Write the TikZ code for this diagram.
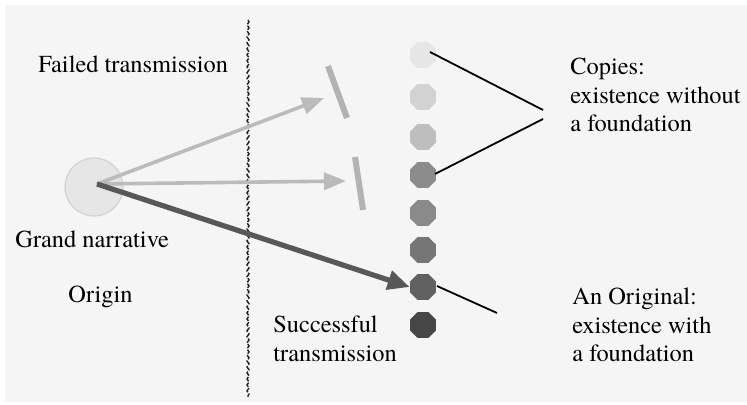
\documentclass[tikz,border=0pt]{standalone}
\usepackage{fontspec}
\setmainfont{texgyretermes}[Extension=.otf,UprightFont=*-regular,BoldFont=*-bold,ItalicFont=*-italic,BoldItalicFont=*-bolditalic]
\usetikzlibrary{shapes.geometric,arrows.meta,decorations.pathmorphing}
\definecolor{bg}{HTML}{F5F5F5}
\definecolor{lgarrow}{HTML}{BBBBBB}
\definecolor{bar}{HTML}{B3B3B3}
\definecolor{dkarrow}{HTML}{585858}
\definecolor{c1}{HTML}{E6E6E6}
\definecolor{c2}{HTML}{D2D2D2}
\definecolor{c3}{HTML}{BDBDBD}
\definecolor{c4}{HTML}{8C8C8C}
\definecolor{c5}{HTML}{8A8A8A}
\definecolor{c6}{HTML}{767676}
\definecolor{c7}{HTML}{616161}
\definecolor{c8}{HTML}{474747}
\begin{document}
\begin{tikzpicture}[x=0.5pt,y=-0.5pt,
  every node/.style={font=\rmfamily\fontsize{12.2}{14.3}\selectfont},
  txt/.style={anchor=west,align=left,inner sep=0pt},
  oct/.style={regular polygon,regular polygon sides=8,minimum size=14pt,inner sep=0pt,draw=none},
  lightarrow/.style={draw=lgarrow,line width=1.8pt,-{Triangle[length=11pt,width=8.5pt]}},
  darkarrow/.style={draw=dkarrow,line width=2.6pt,-{Triangle[length=11pt,width=9.5pt]}},
  barline/.style={draw=bar,line width=3pt},
  pointer/.style={draw=black,line width=0.9pt},
  divider/.style={draw=black!85,line width=0.7pt,dashed,dash pattern=on 2.5pt off 0.8pt,
     decorate,decoration={snake,amplitude=0.5pt,segment length=3pt}}]
\useasboundingbox (0,0) rectangle (747,405);
\fill[white] (0,0) rectangle (747,405);
\fill[bg] (5,5) rectangle (747,402);
% divider
\coordinate (dtop) at (248,20);
\coordinate (dbot) at (248,397);
\draw[divider] (dtop) -- (dbot);
% origin
\node[circle,fill=c1,draw=c2,line width=0.6pt,minimum size=29pt,inner sep=0pt] (origin) at (94,187) {};
\coordinate (src) at (97,184);
% bars
\coordinate (b1a) at (328,66);
\coordinate (b1b) at (347,118);
\coordinate (b2a) at (355,157);
\coordinate (b2b) at (363,210);
\draw[barline] (b1a) -- (b1b);
\draw[barline] (b2a) -- (b2b);
% octagons
\node[oct,fill=c1] (o1) at (423,55) {};
\node[oct,fill=c2] (o2) at (423,97) {};
\node[oct,fill=c3] (o3) at (423,137) {};
\node[oct,fill=c4] (o4) at (423,175) {};
\node[oct,fill=c5] (o5) at (423,213) {};
\node[oct,fill=c6] (o6) at (423,250) {};
\node[oct,fill=c7] (o7) at (423,287) {};
\node[oct,fill=c8] (o8) at (423,325) {};
% arrows
\coordinate (t1) at (324,98);
\coordinate (t2) at (346,181);
\draw[lightarrow] (src) -- (t1);
\draw[lightarrow] (src) -- (t2);
\draw[darkarrow] (src) -- (o7.west);
% texts
\node[anchor=base west,inner sep=0pt] (failed) at (38,73) {Failed transmission};
\node[anchor=base west,inner sep=0pt] (grand) at (15,248) {Grand narrative};
\node[anchor=base west,inner sep=0pt] (orig) at (68,302) {Origin};
\node[txt] (succ) at (273,339) {Successful\\transmission};
\node[txt] (copies) at (570,95) {Copies:\\existence without\\a foundation};
\node[txt] (anorig) at (572,325) {An Original:\\existence with\\a foundation};
% pointers
\coordinate (p1) at (543,110);
\coordinate (p2) at (543,119);
\coordinate (p3) at (497,313);
\draw[pointer] ([shift={(7,-3)}]o1.center) -- (p1);
\draw[pointer] (p2) -- ([shift={(12,-1)}]o4.center);
\draw[pointer] ([shift={(14,-1)}]o7.center) -- (p3);
\end{tikzpicture}
\end{document}
